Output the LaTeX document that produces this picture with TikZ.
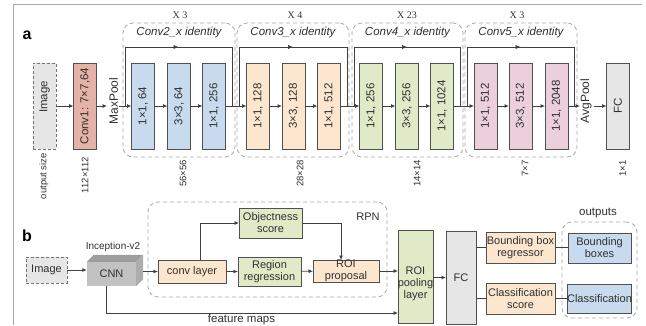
\documentclass[tikz,border=0pt]{standalone}
\usepackage{fontspec}
\setmainfont{Liberation Sans}
\newfontfamily\serifx{Liberation Serif}
\usetikzlibrary{arrows.meta,decorations.markings,calc}
\definecolor{edge}{HTML}{505050}
\definecolor{lin}{HTML}{404040}
\definecolor{dgr}{HTML}{A8A8A8}
\definecolor{cimg}{HTML}{E6E6E6}
\definecolor{cconv}{HTML}{E6B2A8}
\definecolor{cblue}{HTML}{C8DBEE}
\definecolor{cpeach}{HTML}{FCE6CE}
\definecolor{cgreen}{HTML}{E1EAC7}
\definecolor{cpink}{HTML}{EBCFDB}
\definecolor{ccnn}{HTML}{C2C2C2}
\definecolor{txt}{HTML}{303030}
\newcommand\vblock[4]{\node[vb,fill=#3] (#1) at (#2,106) {}; \node[vl] at (#1) {#4};}
\begin{document}
\begin{tikzpicture}[x=1pt,y=-1pt,
 blk/.style={draw=edge,line width=0.9pt,inner sep=0pt,outer sep=0pt},
 vb/.style={blk,minimum width=23pt,minimum height=86pt},
 vl/.style={rotate=90,text=txt,font=\fontsize{11.5}{13}\selectfont,inner sep=0pt},
 arr/.style={draw=lin,line width=0.8pt,-{Latex[length=4.5pt,width=4pt]}},
 ln/.style={draw=lin,line width=0.8pt},
 grp/.style={draw=dgr,line width=0.8pt,dash pattern=on 4pt off 3pt,rounded corners=10pt,inner sep=0pt},
 skipln/.style={ln,decoration={markings,mark=at position 0.5 with {\arrow{Latex[length=5pt,width=4.5pt]}}},postaction={decorate}},
 ttl/.style={font=\fontsize{11.5}{13}\selectfont\itshape,text=txt},
 rep/.style={font=\fontsize{10}{12}\serifx,text=txt},
 sz/.style={rotate=90,anchor=east,font=\fontsize{9.5}{11}\selectfont,text=txt,inner sep=0pt},
 bl/.style={font=\fontsize{11}{12}\selectfont,text=txt,align=center},
 hb/.style={blk,bl},
]
\useasboundingbox (0,0) rectangle (646,325);
% frame
\draw[draw=dgr,line width=0.8pt] (13,325) -- (13,4) -- (642,4);
\node[font=\fontsize{16}{18}\selectfont\bfseries] (la) at (27,35) {a};
\node[font=\fontsize{16}{18}\selectfont\bfseries] (lb) at (27,236) {b};

% ---------- part a ----------
\node[vb,fill=cimg,draw=edge!80,dash pattern=on 3pt off 2pt] (img) at (44.5,106) {};
\node[vl] at (44.5,97) {Image};
\vblock{c1}{85}{cconv}{Conv1: 7×7,64}
\node[vl,font=\fontsize{12}{14}\selectfont] (mp) at (113.5,101) {MaxPool};

\node[grp,minimum width=112pt,minimum height=134pt] (g2) at (179,90) {};
\node[grp,minimum width=112pt,minimum height=134pt] (g3) at (293,90) {};
\node[grp,minimum width=111pt,minimum height=134pt] (g4) at (407.5,90) {};
\node[grp,minimum width=112pt,minimum height=134pt] (g5) at (521,90) {};

\node[ttl] (t2) at (179,33) {Conv2\_x identity};
\node[ttl] (t3) at (293,33) {Conv3\_x identity};
\node[ttl] (t4) at (407.5,33) {Conv4\_x identity};
\node[ttl] (t5) at (521,33) {Conv5\_x identity};
\node[rep] (r2) at (180,15) {X 3};
\node[rep] (r3) at (295,15) {X 4};
\node[rep] (r4) at (407,15) {X 23};
\node[rep] (r5) at (517,15) {X 3};

\vblock{b21}{143}{cblue}{1×1, 64}
\vblock{b22}{179}{cblue}{3×3, 64}
\vblock{b23}{214}{cblue}{1×1, 256}
\vblock{b31}{258}{cpeach}{1×1, 128}
\vblock{b32}{293.5}{cpeach}{3×3, 128}
\vblock{b33}{329}{cpeach}{1×1, 512}
\vblock{b41}{371}{cgreen}{1×1, 256}
\vblock{b42}{407}{cgreen}{3×3, 256}
\vblock{b43}{442}{cgreen}{1×1, 1024}
\vblock{b51}{485.5}{cpink}{1×1, 512}
\vblock{b52}{520.5}{cpink}{3×3, 512}
\vblock{b53}{556.5}{cpink}{1×1, 2048}
\node[vl,font=\fontsize{12}{14}\selectfont] (ap) at (586,101) {AvgPool};
\vblock{fc}{618}{cimg}{FC}

% skip connections
\coordinate (s2a) at (125,106); \coordinate (s2b) at (232,106);
\coordinate (s3a) at (239,106); \coordinate (s3b) at (347,106);
\coordinate (s4a) at (354,106); \coordinate (s4b) at (460,106);
\coordinate (s5a) at (467,106); \coordinate (s5b) at (574,106);
\draw[skipln] (s2a) -- ++(0,-59) -| (s2b);
\draw[skipln] (s3a) -- ++(0,-59) -| (s3b);
\draw[skipln] (s4a) -- ++(0,-59) -| (s4b);
\draw[skipln] (s5a) -- ++(0,-59) -| (s5b);

% main chain
\coordinate (mpin) at (107,106); \coordinate (mpout) at (119,106);
\coordinate (apin) at (580,106); \coordinate (apout) at (594,106);
\draw[arr] (img.east) -- (c1.west);
\draw[arr] (c1.east) -- (mpin);
\draw[arr] (mpout) -- (b21.west);
\draw[arr] (b21) -- (b22);
\draw[arr] (b22) -- (b23);
\draw[arr] (b23) -- (b31);
\draw[arr] (b31) -- (b32);
\draw[arr] (b32) -- (b33);
\draw[arr] (b33) -- (b41);
\draw[arr] (b41) -- (b42);
\draw[arr] (b42) -- (b43);
\draw[arr] (b43) -- (b51);
\draw[arr] (b51) -- (b52);
\draw[arr] (b52) -- (b53);
\draw[arr] (b53.east) -- (apin);
\draw[arr] (apout) -- (fc.west);

% output sizes
\node[sz] (o0) at (44,153) {output size};
\node[sz] (o1) at (85,157) {112×112};
\node[sz] (o2) at (183,160) {56×56};
\node[sz] (o3) at (300,160) {28×28};
\node[sz] (o4) at (417,160) {14×14};
\node[sz] (o5) at (525,160) {7×7};
\node[sz] (o6) at (622.5,160) {1×1};

% ---------- part b ----------
\node[grp,minimum width=239pt,minimum height=95pt] (rpn) at (267.5,249.5) {};
\node[grp,minimum width=75pt,minimum height=96pt] (outg) at (599.5,270) {};
\node[bl] (rpnl) at (368,217) {RPN};
\node[bl,font=\fontsize{11.5}{13}\selectfont] (outl) at (598,213) {outputs};

\node[hb,fill=cimg,draw=edge!80,dash pattern=on 3pt off 2pt,minimum width=41pt,minimum height=26pt] (im2) at (46.5,270) {Image};
\node[bl,fill=ccnn,minimum width=49pt,minimum height=24pt,inner sep=0pt] (cnn) at (111.5,274) {CNN};
\fill[fill=black!38] (cnn.north west) -- ++(7,-7) -- ($(cnn.north east)+(7,-7)$) -- (cnn.north east) -- cycle;
\fill[fill=black!32] (cnn.north east) -- ++(7,-7) -- ($(cnn.south east)+(7,-7)$) -- (cnn.south east) -- cycle;
\node[bl,font=\fontsize{10}{12}\selectfont] (incl) at (113,247) {Inception-v2};

\node[hb,fill=cpeach,minimum width=68pt,minimum height=23pt] (conv) at (192,271.5) {conv layer};
\node[hb,fill=cgreen,minimum width=63pt,minimum height=30pt] (obj) at (270.5,223) {Objectness\\score};
\node[hb,fill=cgreen,minimum width=63pt,minimum height=29pt] (reg) at (269.5,271.5) {Region\\regression};
\node[hb,fill=cpeach,minimum width=66pt,minimum height=22pt] (roi) at (346,271) {ROI\\proposal};
\node[blk,fill=cgreen,minimum width=35pt,minimum height=93pt] (roip) at (415.5,276.5) {};
\node[bl] at (415.5,284) {ROI\\pooling\\layer};
\node[hb,fill=cimg,minimum width=30pt,minimum height=93pt] (fc2) at (461,277.5) {FC};
\node[hb,fill=cpeach,minimum width=69pt,minimum height=31pt] (bbr) at (520.5,247.5) {Bounding box\\regressor};
\node[hb,fill=cpeach,minimum width=69pt,minimum height=31pt] (cls) at (520.5,298.5) {Classification\\score};
\node[hb,fill=cblue,minimum width=63pt,minimum height=30pt] (bbx) at (599.5,248) {Bounding\\boxes};
\node[hb,fill=cblue,minimum width=63pt,minimum height=29pt] (clo) at (599.5,298.5) {Classification};

\coordinate (cnnside) at (143,271.5);
\coordinate (cbr) at ($(conv.north)+(8,0)$);
\coordinate (rin) at ($(roi.north)+(-5,0)$);
\coordinate (fm0) at ($(cnn.south)+(-5,0)$);
\coordinate (fmend) at (398,313);

\draw[arr] (im2.east) -- (im2.east -| cnn.west);
\draw[arr] (cnnside) -- (conv.west);
\draw[arr] (conv) -- (reg);
\draw[arr] (cbr) |- (obj.west);
\draw[arr] (reg) -- (roi);
\draw[arr] (obj.east) -| (rin);
\draw[arr] (roi.east) -- (roi.east -| roip.west);
\draw[arr] (roip.east |- fc2.west) -- (fc2.west);
\draw[arr] (fm0) |- (fmend);
\node[bl,font=\fontsize{11.5}{13}\selectfont] (fml) at (241.5,320) {feature maps};
\draw[ln] (fc2.east |- bbr.west) -- (bbr.west);
\draw[ln] (fc2.east |- cls.west) -- (cls.west);
\draw[ln] (bbr.east) -- (bbr.east -| bbx.west);
\draw[ln] (cls.east) -- (cls.east -| clo.west);
\end{tikzpicture}
\end{document}
